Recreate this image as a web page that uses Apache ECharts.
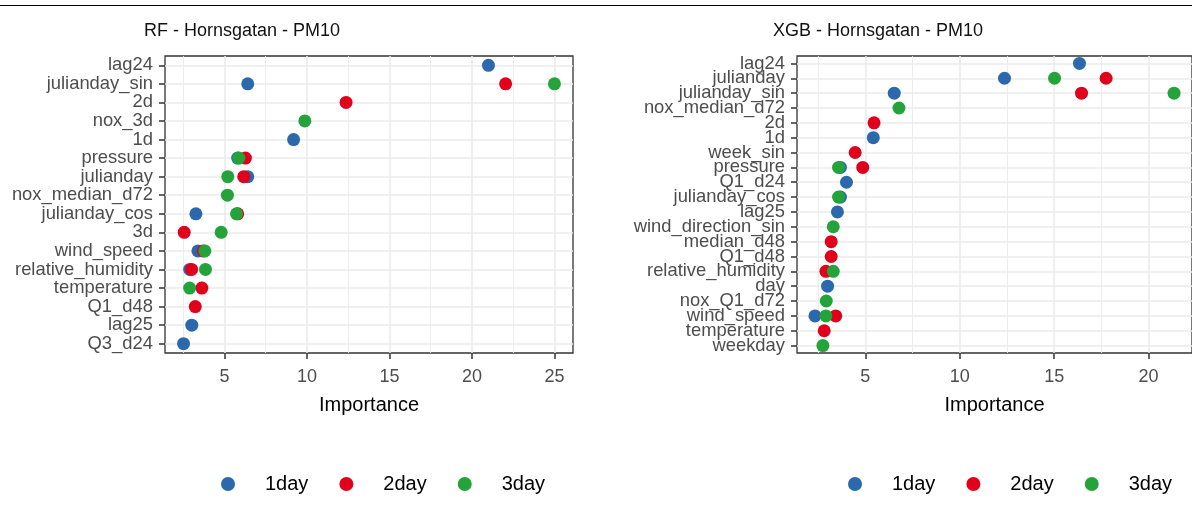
<!DOCTYPE html>
<html><head><meta charset="utf-8">
<script src="https://cdn.jsdelivr.net/npm/echarts@6/dist/echarts.min.js"></script>
<style>html,body{margin:0;padding:0;background:#fff}#c{width:1192px;height:526px}</style>
</head><body><div id="c"></div>
<script>
const seriesNames = ['1day', '2day', '3day'];
const seriesColors = ['#2B69AC', '#E0001B', '#24A33B'];

const rfTitle = 'RF - Hornsgatan - PM10';
const rfCategories = ['lag24','julianday_sin','2d','nox_3d','1d','pressure','julianday','nox_median_d72','julianday_cos','3d','wind_speed','relative_humidity','temperature','Q1_d48','lag25','Q3_d24'];
const rf1day = [21.0, 6.41, null, null, 9.19, 5.80, 6.41, null, 3.27, null, 3.39, 2.89, null, null, 3.02, 2.52];
const rf2day = [null, 22.04, 12.37, null, null, 6.27, 6.17, null, 5.80, 2.56, 3.71, 3.01, 3.63, 3.23, null, null];
const rf3day = [null, 25.0, null, 9.87, null, 5.87, 5.20, 5.18, 5.73, 4.80, 3.81, 3.85, 2.89, null, null, null];
const rfTicks = [5, 10, 15, 20, 25];

const xgbTitle = 'XGB - Hornsgatan - PM10';
const xgbCategories = ['lag24','julianday','julianday_sin','nox_median_d72','2d','1d','week_sin','pressure','Q1_d24','julianday_cos','lag25','wind_direction_sin','median_d48','Q1_d48','relative_humidity','day','nox_Q1_d72','wind_speed','temperature','weekday'];
const xgb1day = [16.34, 12.37, 6.53, null, null, 5.42, null, 3.68, 4.00, 3.68, 3.52, null, null, null, null, 3.00, null, 2.33, null, null];
const xgb2day = [null, 17.75, 16.45, null, 5.46, null, 4.46, 4.86, null, null, null, null, 3.19, 3.19, 2.91, null, null, 3.43, 2.82, null];
const xgb3day = [null, 15.02, 21.35, 6.78, null, null, null, 3.58, null, 3.58, null, 3.30, null, null, 3.30, null, 2.93, 2.91, null, 2.75];
const xgbTicks = [5, 10, 15, 20];

const axisTitle = 'Importance';
const FONT = 'Liberation Sans, Arial, sans-serif';

function toPoints(cats, vals) {
  const out = [];
  vals.forEach((v, i) => { if (v != null) out.push([v, cats[i]]); });
  return out;
}
function expandRange(arrays) {
  const all = [].concat(...arrays).filter(v => v != null);
  const lo = Math.min(...all), hi = Math.max(...all);
  const pad = (hi - lo) * 0.05;
  return [lo - pad, hi + pad];
}

const panels = [
  {title: rfTitle, cats: rfCategories, vals: [rf1day, rf2day, rf3day], ticks: rfTicks,
   grid: {left: 165, top: 56, width: 408, height: 297}, titleLeft: 144, legendLeft: 221},
  {title: xgbTitle, cats: xgbCategories, vals: [xgb1day, xgb2day, xgb3day], ticks: xgbTicks,
   grid: {left: 797, top: 56, width: 396, height: 297}, titleLeft: 773, legendLeft: 848}
];

const option = {
  animation: false,
  backgroundColor: '#fff',
  textStyle: {fontFamily: FONT},
  title: panels.map(p => ({
    text: p.title, left: p.titleLeft, top: 22, padding: 0,
    textStyle: {fontFamily: FONT, fontSize: 18, fontWeight: 'normal', color: '#111'}
  })),
  legend: panels.map((p, k) => ({
    data: seriesNames, left: p.legendLeft, top: 474, orient: 'horizontal',
    icon: 'circle', itemWidth: 14, itemHeight: 14, itemGap: 31, padding: 0,
    textStyle: {fontFamily: FONT, fontSize: 20, color: '#000', padding: [0, 0, 0, 25]}
  })),
  grid: panels.map(p => Object.assign({show: true, borderColor: '#333', borderWidth: 1.3, backgroundColor: 'transparent', containLabel: false}, p.grid)),
  xAxis: panels.map((p, k) => {
    const r = expandRange(p.vals);
    return {
      type: 'value', gridIndex: k, min: r[0], max: r[1],
      name: axisTitle, nameLocation: 'middle', nameGap: 42,
      nameTextStyle: {fontFamily: FONT, fontSize: 20, color: '#000'},
      axisLine: {show: false},
      axisTick: {show: true, length: 6, lineStyle: {color: '#333', width: 1.5}, customValues: p.ticks},
      axisLabel: {fontFamily: FONT, fontSize: 18, color: '#4D4D4D', margin: 15, customValues: p.ticks},
      splitLine: {show: true, lineStyle: {color: '#EBEBEB', width: 1.6}},
      minorTick: {show: false, splitNumber: 2},
      minorSplitLine: {show: true, lineStyle: {color: '#EBEBEB', width: 0.9}}
    };
  }),
  yAxis: panels.map((p, k) => ({
    type: 'category', gridIndex: k, data: p.cats, inverse: true,
    axisLine: {show: false},
    axisTick: {show: true, alignWithLabel: true, length: 6, lineStyle: {color: '#333', width: 1.5}},
    axisLabel: {interval: 0, fontFamily: FONT, fontSize: 18.4, color: '#4D4D4D', margin: 12},
    splitLine: {show: true, alignWithLabel: true, interval: 0, lineStyle: {color: '#EBEBEB', width: 1.6}}
  })),
  series: []
};
panels.forEach((p, k) => {
  seriesNames.forEach((n, j) => {
    option.series.push({
      type: 'scatter', name: n, xAxisIndex: k, yAxisIndex: k,
      symbol: 'circle', symbolSize: 13,
      itemStyle: {color: seriesColors[j], opacity: 1},
      data: toPoints(p.cats, p.vals[j])
    });
  });
});
option.graphic = [{type: 'line', shape: {x1: 0, y1: 5.5, x2: 1192, y2: 5.5}, style: {stroke: '#000', lineWidth: 1}}];

const chart = echarts.init(document.getElementById('c'), null, {renderer: 'canvas'});
chart.setOption(option);
</script></body></html>
